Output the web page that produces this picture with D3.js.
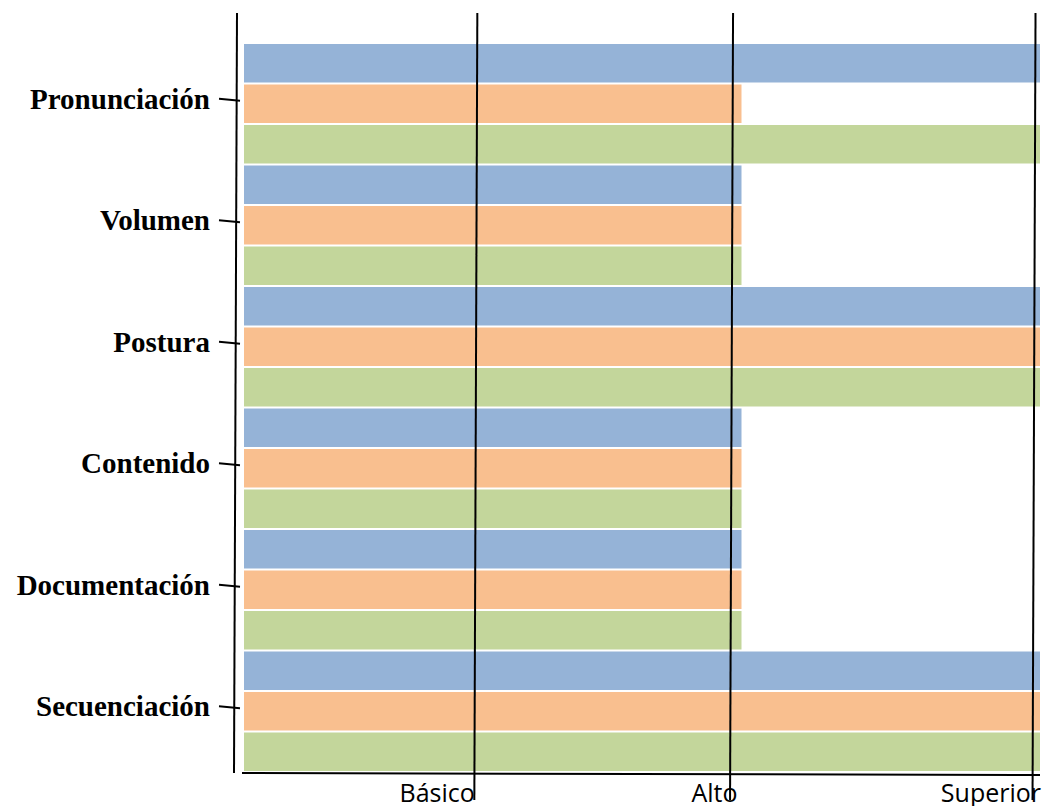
<!DOCTYPE html>
<html>
<head>
<meta charset="utf-8">
<script src="https://cdn.jsdelivr.net/npm/d3@7"></script>
<style>
  body { margin: 0; background: #fff; }
  svg { display: block; }
</style>
</head>
<body>
<div id="chart"></div>
<script>
// categories, top to bottom
var categories = ["Pronunciación", "Volumen", "Postura", "Contenido", "Documentación", "Secuenciación"];
// three series per category (blue, orange, green)
var series = ["s1", "s2", "s3"];
var serie1 = [8, 5, 8, 5, 5, 8];
var serie2 = [5, 5, 8, 5, 5, 8];
var serie3 = [8, 5, 8, 5, 5, 8];
// level labels on the bottom and where their hand drawn lines sit
var levels = ["Básico", "Alto", "Superior"];
var levelValues = [2.33, 4.9, 7.94];

var colours = ["#95B3D7", "#F9BF8F", "#C3D69B"];
var width = 1044, height = 806;

var svg = d3.select("#chart").append("svg")
    .attr("width", width).attr("height", height);

var x = d3.scaleLinear().domain([0, 8]).range([244, 1040]);
var y = d3.scaleBand().domain(categories).range([43, 772]);
var yInner = d3.scaleBand().domain(series).range([0, y.bandwidth()]);

var rows = categories.map(function (c, i) {
    return {cat: c, values: [serie1[i], serie2[i], serie3[i]]};
});

// bars
var groups = svg.selectAll("g.cat").data(rows).enter().append("g")
    .attr("class", "cat")
    .attr("transform", function (d) { return "translate(0," + y(d.cat) + ")"; });

groups.selectAll("rect")
    .data(function (d) { return d.values.map(function (v, j) { return {s: series[j], v: v, j: j}; }); })
    .enter().append("rect")
    .attr("x", x(0))
    .attr("y", function (d) { return yInner(d.s) + 1; })
    .attr("width", function (d) { return x(d.v) - x(0); })
    .attr("height", yInner.bandwidth() - 2)
    .attr("fill", function (d) { return colours[d.j]; });

// the hand drawn level lines (slightly slanted)
svg.selectAll("line.level").data(levelValues).enter().append("line")
    .attr("class", "level")
    .attr("x1", function (d) { return x(d) + 1.5; }).attr("y1", 13)
    .attr("x2", function (d) { return x(d) - 1.5; }).attr("y2", 800)
    .attr("stroke", "#000").attr("stroke-width", 2);

// level labels
svg.selectAll("text.level").data(levels).enter().append("text")
    .attr("class", "level")
    .attr("x", function (d, i) { return x(levelValues[i]) + (i == 0 ? -1 : (i == 1 ? 6 : 7)); })
    .attr("y", 802)
    .attr("text-anchor", "end")
    .style("font-family", "'Liberation Sans Narrow', 'Open Sans', sans-serif")
    .style("font-size", "25px")
    .attr("fill", "#000")
    .text(function (d) { return d; });

// axes
svg.append("line").attr("x1", 237).attr("y1", 13).attr("x2", 234).attr("y2", 773)
    .attr("stroke", "#000").attr("stroke-width", 2);
svg.append("line").attr("x1", 242).attr("y1", 773).attr("x2", 1040).attr("y2", 775)
    .attr("stroke", "#000").attr("stroke-width", 2);

// category ticks and labels
var cy = function (c) { return y(c) + y.bandwidth() / 2 - 4; };
svg.selectAll("line.tick").data(categories).enter().append("line")
    .attr("class", "tick")
    .attr("x1", 219).attr("y1", function (d) { return cy(d) - 1; })
    .attr("x2", 240).attr("y2", function (d) { return cy(d) + 1; })
    .attr("stroke", "#000").attr("stroke-width", 1.8);

svg.selectAll("text.cat").data(categories).enter().append("text")
    .attr("class", "cat")
    .attr("x", 210)
    .attr("y", function (d) { return cy(d) + 9; })
    .attr("text-anchor", "end")
    .style("font-family", "'Liberation Serif', 'Times New Roman', serif")
    .style("font-weight", "bold")
    .style("font-size", "29px")
    .attr("fill", "#000")
    .text(function (d) { return d; });
</script>
</body>
</html>
